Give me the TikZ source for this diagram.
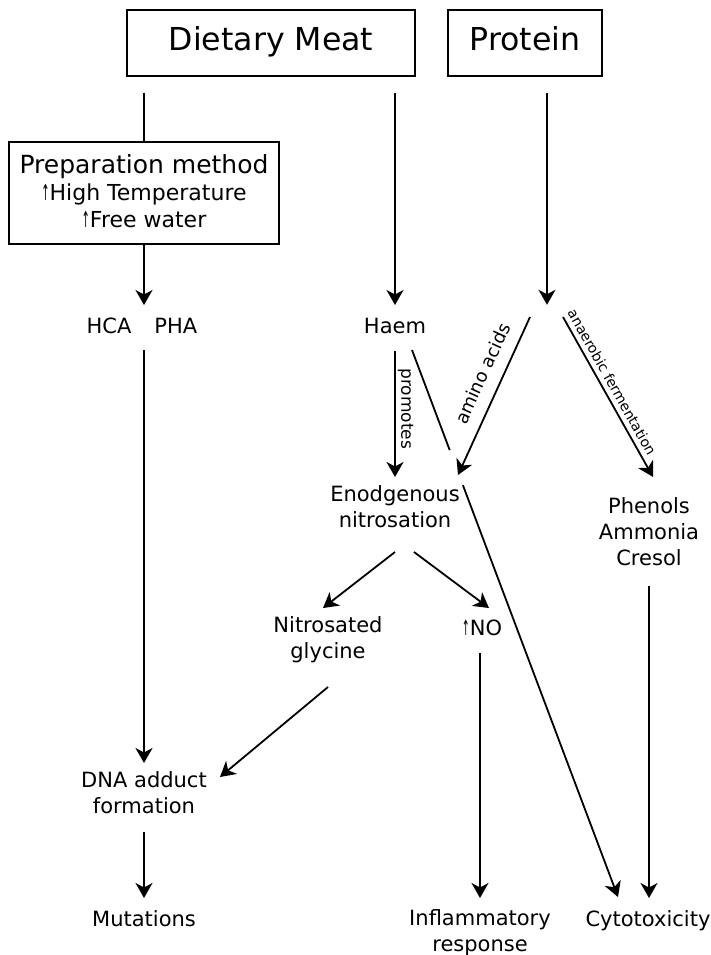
\documentclass[tikz,border=0pt]{standalone}
\usepackage{fontspec}
\setmainfont{DejaVu Sans}
\usetikzlibrary{arrows.meta,calc}
\newcommand{\upar}{\scalebox{0.45}[1]{↑}}
\begin{document}
\begin{tikzpicture}[x=1pt,y=1pt,
  box/.style={draw, line width=2pt, inner sep=0pt},
  bigtxt/.style={font=\fontsize{31.6}{36}\selectfont, text height=23pt, text depth=7.5pt},
  lbl/.style={font=\fontsize{21}{26}\selectfont, align=center, inner sep=0pt, anchor=base},
  ln/.style={line width=1.8pt},
  arr/.style={ln, -{Stealth[length=15pt,width=17pt,inset=4.5pt]}},
  edgelbl/.style={inner sep=0pt, sloped}
]
\useasboundingbox (0,0) rectangle (711,-955);
\node[box, bigtxt, minimum width=288pt, minimum height=66pt] (dm) at (271,-43) {Dietary Meat};
\node[box, bigtxt, minimum width=154pt, minimum height=66pt] (pr) at (525,-43) {Protein};
\node[box, minimum width=270pt, minimum height=102pt] (prep) at (144,-193) {};
\node[anchor=base, align=center, inner sep=0pt, font=\fontsize{22}{27}\selectfont] (preptxt) at (144,-227) {{\fontsize{25}{27}\selectfont Preparation method}\\ \upar High Temperature\\ \upar Free water};
\node[lbl] (hca) at (142,-333) {HCA\hspace{23pt}PHA};
\node[lbl] (haem) at (395,-333) {Haem};
\node[circle, minimum size=34pt, inner sep=0pt] (pj) at (547,-322) {};
\node[lbl] (enod) at (395,-527) {Enodgenous\\nitrosation};
\node[lbl] (phen) at (649,-565) {Phenols\\Ammonia\\Cresol};
\node[lbl] (nitg) at (328,-658) {Nitrosated\\glycine};
\node[lbl] (no) at (482,-635) {\upar NO};
\node[lbl] (dna) at (144,-813) {DNA adduct\\formation};
\node[lbl] (mut) at (144,-926) {Mutations};
\node[lbl] (infl) at (480,-951) {Inflammatory\\response};
\node[lbl] (cyto) at (648,-926) {Cytotoxicity};

\draw[ln, shorten <=16pt] (prep.north |- dm.south) -- (prep.north);
\draw[arr, shorten >=28pt] (prep.south) -- (prep.south |- hca.base);
\draw[arr, shorten <=16pt, shorten >=28pt] (haem.base |- dm.south) -- (haem.base);
\draw[arr, shorten <=16pt] (pj.north |- pr.south) -- (pj.north);
\draw[arr, shorten <=17pt, shorten >=50pt] (prep.south |- hca.base) -- (prep.south |- dna.base);
\draw[arr, shorten <=19pt, shorten >=28pt] (dna.base) -- (mut.base);
\draw[arr, shorten <=18pt, shorten >=50pt] (haem.base) -- (enod.base) node[edgelbl, pos=0.39, above=2pt, font=\fontsize{17}{20}\selectfont] {promotes};
\draw[arr] ($(pj)+(-17,5)$) -- ($(enod.base)+(63,52)$) node[edgelbl, pos=0.41, above=12pt, font=\fontsize{18}{20}\selectfont] {amino acids};
\draw[arr] ($(pj)+(16,5)$) -- ($(phen.base)+(4,88)$) node[edgelbl, pos=0.44, above=4.5pt, font=\fontsize{14}{16}\selectfont] {anaerobic fermentation};
\draw[arr] ($(enod.base)+(0,-25)$) -- ($(nitg.base)+(-5,50)$);
\draw[arr] ($(enod.base)+(19,-25)$) -- ($(no.base)+(7,27)$);
\draw[arr, shorten <=18pt, shorten >=53pt] (infl.base |- no.base) -- (infl.base);
\draw[arr] ($(nitg.base)+(0,-29)$) -- ($(dna.base)+(76,36)$);
\draw[arr, shorten <=21pt, shorten >=28pt] (phen.base) -- (phen.base |- cyto.base);
\coordinate (h1) at ($(haem.base)+(17,-17)$);
\coordinate (h2) at ($(cyto.base)+(-30,29)$);
\draw[ln] (h1) -- ($(h1)!0.183!(h2)$);
\draw[arr] ($(h1)!0.247!(h2)$) -- (h2);
\end{tikzpicture}
\end{document}
